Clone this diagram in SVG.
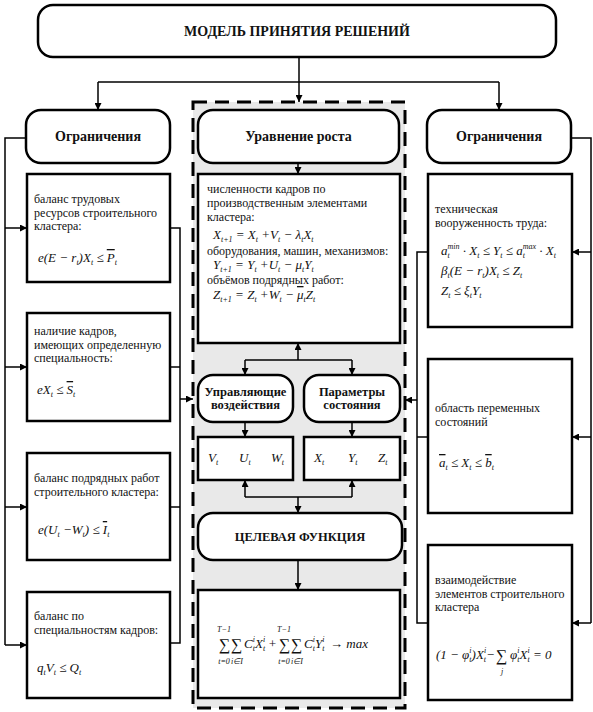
<svg xmlns="http://www.w3.org/2000/svg" width="593" height="712" viewBox="0 0 593 712">
<style>
text{font-family:'Liberation Serif','Times New Roman',serif}
.bx{fill:#fff;stroke:#000;stroke-width:2.5}
.cn{fill:none;stroke:#000;stroke-width:1.5}
.t{font-size:12px;fill:#111}
.h{font-weight:bold;font-size:14px;text-anchor:middle;fill:#111}
.h2{font-weight:bold;font-size:12.5px;text-anchor:middle;fill:#111}
.f{font-style:italic;font-size:13px;fill:#111}
.s{font-size:8px}
.sg{font-size:16px;fill:#111}
.lm{font-style:italic;font-size:8px;fill:#111;text-anchor:middle}
.ov{text-decoration:overline}
</style>
<defs>
<marker id="ar" viewBox="0 0 10 10" refX="10" refY="5" markerWidth="7" markerHeight="7" orient="auto" markerUnits="userSpaceOnUse">
<path d="M0,0 L10,5 L0,10 z" fill="#000"/>
</marker>
</defs>

<rect x="193" y="102" width="212" height="606" fill="#e9e9e9" stroke="#000" stroke-width="3" stroke-dasharray="14 8"/>

<g id="connectors">
<path class="cn" d="M299,57 V102" marker-end="url(#ar)"/>
<path class="cn" d="M98,82 H499"/>
<path class="cn" d="M98,82 V110" marker-end="url(#ar)"/>
<path class="cn" d="M499,82 V110" marker-end="url(#ar)"/>
<path class="cn" d="M26,138 H5 V645"/>
<path class="cn" d="M5,228 H27" marker-end="url(#ar)"/>
<path class="cn" d="M5,367 H27" marker-end="url(#ar)"/>
<path class="cn" d="M5,507 H27" marker-end="url(#ar)"/>
<path class="cn" d="M5,645 H27" marker-end="url(#ar)"/>
<path class="cn" d="M170,228 H180 V643 H170"/>
<path class="cn" d="M170,367 H180"/>
<path class="cn" d="M170,507 H180"/>
<path class="cn" d="M180,399 H193" marker-end="url(#ar)"/>
<path class="cn" d="M571,138 H591 V623"/>
<path class="cn" d="M591,252 H572" marker-end="url(#ar)"/>
<path class="cn" d="M591,437 H572" marker-end="url(#ar)"/>
<path class="cn" d="M591,623 H572" marker-end="url(#ar)"/>
<path class="cn" d="M428,252 H417 V623 H428"/>
<path class="cn" d="M428,437 H417"/>
<path class="cn" d="M417,400 H405" marker-end="url(#ar)"/>
<path class="cn" d="M298,163 V174" marker-end="url(#ar)"/>
<path class="cn" d="M298,360 V343" marker-end="url(#ar)"/>
<path class="cn" d="M245,360 H352"/>
<path class="cn" d="M245,360 V375" marker-end="url(#ar)"/>
<path class="cn" d="M352,360 V375" marker-end="url(#ar)"/>
<path class="cn" d="M245,422 V437" marker-end="url(#ar)"/>
<path class="cn" d="M352,422 V437" marker-end="url(#ar)"/>
<path class="cn" d="M245,497 V480" marker-end="url(#ar)"/>
<path class="cn" d="M352,497 V480" marker-end="url(#ar)"/>
<path class="cn" d="M245,497 H352"/>
<path class="cn" d="M298,497 V513" marker-end="url(#ar)"/>
<path class="cn" d="M298,560 V590" marker-end="url(#ar)"/>
</g>

<g id="title">
<rect class="bx" x="38" y="5" width="518" height="52" rx="15"/>
<text class="h" x="297" y="36">МОДЕЛЬ ПРИНЯТИЯ РЕШЕНИЙ</text>
</g>

<g id="limits-left">
<rect class="bx" x="26" y="110" width="144" height="53" rx="15"/>
<text class="h" x="98" y="141">Ограничения</text>
</g>
<g id="growth">
<rect class="bx" x="198" y="110" width="201" height="53" rx="15"/>
<text class="h" x="298.5" y="141">Уравнение роста</text>
</g>
<g id="limits-right">
<rect class="bx" x="427" y="110" width="144" height="53" rx="15"/>
<text class="h" x="499" y="141">Ограничения</text>
</g>

<g id="left1">
<rect class="bx" x="27" y="174" width="143" height="108"/>
<text class="t" x="34" y="203">баланс трудовых</text>
<text class="t" x="34" y="217">ресурсов строительного</text>
<text class="t" x="34" y="230">кластера:</text>
<text class="f" x="38" y="262">e(E − r<tspan class="s" dy="2.5">t</tspan><tspan dy="-2.5">)X</tspan><tspan class="s" dy="2.5">t</tspan><tspan dy="-2.5"> ≤ </tspan><tspan class="ov">P</tspan><tspan class="s" dy="2.5">t</tspan></text>
</g>
<g id="left2">
<rect class="bx" x="27" y="313" width="143" height="108"/>
<text class="t" x="34" y="335">наличие кадров,</text>
<text class="t" x="34" y="349">имеющих определенную</text>
<text class="t" x="34" y="362">специальность:</text>
<text class="f" x="37" y="394">eX<tspan class="s" dy="2.5">t</tspan><tspan dy="-2.5"> ≤ </tspan><tspan class="ov">S</tspan><tspan class="s" dy="2.5">t</tspan></text>
</g>
<g id="left3">
<rect class="bx" x="27" y="453" width="143" height="107"/>
<text class="t" x="34" y="482">баланс подрядных работ</text>
<text class="t" x="34" y="496">строительного кластера:</text>
<text class="f" x="38" y="534">e(U<tspan class="s" dy="2.5">t</tspan><tspan dy="-2.5"> −W</tspan><tspan class="s" dy="2.5">t</tspan><tspan dy="-2.5">) ≤ </tspan><tspan class="ov">I</tspan><tspan class="s" dy="2.5">t</tspan></text>
</g>
<g id="left4">
<rect class="bx" x="27" y="592" width="143" height="106"/>
<text class="t" x="34" y="620">баланс по</text>
<text class="t" x="34" y="634">специальностям кадров:</text>
<text class="f" x="37" y="672">q<tspan class="s" dy="2.5">t</tspan><tspan dy="-2.5">V</tspan><tspan class="s" dy="2.5">t</tspan><tspan dy="-2.5"> ≤ Q</tspan><tspan class="s" dy="2.5">t</tspan></text>
</g>

<g id="equations">
<rect class="bx" x="198" y="174" width="202" height="169"/>
<text class="t" x="207" y="193">численности кадров по</text>
<text class="t" x="207" y="207">производственным элементами</text>
<text class="t" x="207" y="221">кластера:</text>
<text class="f" x="213" y="239">X<tspan class="s" dy="2.5">t+1</tspan><tspan dy="-2.5"> = X</tspan><tspan class="s" dy="2.5">t</tspan><tspan dy="-2.5"> +V</tspan><tspan class="s" dy="2.5">t</tspan><tspan dy="-2.5"> − λ</tspan><tspan class="s" dy="2.5">t</tspan><tspan dy="-2.5">X</tspan><tspan class="s" dy="2.5">t</tspan></text>
<text class="t" x="207" y="255">оборудования, машин, механизмов:</text>
<text class="f" x="213" y="269">Y<tspan class="s" dy="2.5">t+1</tspan><tspan dy="-2.5"> = Y</tspan><tspan class="s" dy="2.5">t</tspan><tspan dy="-2.5"> +U</tspan><tspan class="s" dy="2.5">t</tspan><tspan dy="-2.5"> − μ</tspan><tspan class="s" dy="2.5">t</tspan><tspan dy="-2.5">Y</tspan><tspan class="s" dy="2.5">t</tspan></text>
<text class="t" x="207" y="284">объёмов подрядных работ:</text>
<text class="f" x="213" y="299">Z<tspan class="s" dy="2.5">t+1</tspan><tspan dy="-2.5"> = Z</tspan><tspan class="s" dy="2.5">t</tspan><tspan dy="-2.5"> +W</tspan><tspan class="s" dy="2.5">t</tspan><tspan dy="-2.5"> − </tspan><tspan class="ov">μ</tspan><tspan class="s" dy="2.5">t</tspan><tspan dy="-2.5">Z</tspan><tspan class="s" dy="2.5">t</tspan></text>
</g>

<g id="control">
<rect class="bx" x="198" y="375" width="95" height="47" rx="15"/>
<text class="h2" x="245.5" y="396">Управляющие</text>
<text class="h2" x="245.5" y="409">воздействия</text>
</g>
<g id="state">
<rect class="bx" x="304" y="375" width="96" height="47" rx="15"/>
<text class="h2" x="352" y="396">Параметры</text>
<text class="h2" x="352" y="409">состояния</text>
</g>
<g id="control-vars">
<rect class="bx" x="198" y="437" width="95" height="43"/>
<text class="f" x="208" y="462">V<tspan class="s" dy="2.5">t</tspan></text>
<text class="f" x="239" y="462">U<tspan class="s" dy="2.5">t</tspan></text>
<text class="f" x="271" y="462">W<tspan class="s" dy="2.5">t</tspan></text>
</g>
<g id="state-vars">
<rect class="bx" x="304" y="437" width="96" height="43"/>
<text class="f" x="314" y="462">X<tspan class="s" dy="2.5">t</tspan></text>
<text class="f" x="348" y="462">Y<tspan class="s" dy="2.5">t</tspan></text>
<text class="f" x="378" y="462">Z<tspan class="s" dy="2.5">t</tspan></text>
</g>

<g id="objective">
<rect class="bx" x="198" y="513" width="204" height="47" rx="15"/>
<text class="h2" x="300" y="541">ЦЕЛЕВАЯ ФУНКЦИЯ</text>
</g>
<g id="objective-formula">
<rect class="bx" x="198" y="590" width="202" height="108"/>
<text class="lm" x="224" y="632">T−1</text>
<text class="sg" x="219" y="650">∑</text>
<text class="lm" x="224" y="664">t=0</text>
<text class="sg" x="231" y="650">∑</text>
<text class="lm" x="237" y="664">i∈I</text>
<text class="f" x="244" y="648">C<tspan class="s" dy="2.5">t</tspan><tspan class="s" dx="-2.2" dy="-8.5">i</tspan><tspan dy="6">X</tspan><tspan class="s" dy="2.5">t</tspan><tspan class="s" dx="-2.2" dy="-8.5">i</tspan></text>
<text class="f" x="268" y="648">+</text>
<text class="lm" x="284" y="632">T−1</text>
<text class="sg" x="279" y="650">∑</text>
<text class="lm" x="284" y="664">t=0</text>
<text class="sg" x="291" y="650">∑</text>
<text class="lm" x="297" y="664">i∈I</text>
<text class="f" x="304" y="648">C<tspan class="s" dy="2.5">t</tspan><tspan class="s" dx="-2.2" dy="-8.5">i</tspan><tspan dy="6">Y</tspan><tspan class="s" dy="2.5">t</tspan><tspan class="s" dx="-2.2" dy="-8.5">i</tspan></text>
<text class="f" x="330" y="648">→ max</text>
</g>

<g id="right1">
<rect class="bx" x="428" y="174" width="144" height="153"/>
<text class="t" x="435" y="213">техническая</text>
<text class="t" x="435" y="227">вооруженность труда:</text>
<text class="f" x="441" y="255">a<tspan class="s" dy="2.5">t</tspan><tspan class="s" dx="-2.2" dy="-8.5">min</tspan><tspan dy="6"> · X</tspan><tspan class="s" dy="2.5">t</tspan><tspan dy="-2.5"> ≤ Y</tspan><tspan class="s" dy="2.5">t</tspan><tspan dy="-2.5"> ≤ a</tspan><tspan class="s" dy="2.5">t</tspan><tspan class="s" dx="-2.2" dy="-8.5">max</tspan><tspan dy="6"> · X</tspan><tspan class="s" dy="2.5">t</tspan></text>
<text class="f" x="441" y="275">β<tspan class="s" dy="2.5">t</tspan><tspan dy="-2.5">(E − r</tspan><tspan class="s" dy="2.5">t</tspan><tspan dy="-2.5">)X</tspan><tspan class="s" dy="2.5">t</tspan><tspan dy="-2.5"> ≤ Z</tspan><tspan class="s" dy="2.5">t</tspan></text>
<text class="f" x="441" y="295">Z<tspan class="s" dy="2.5">t</tspan><tspan dy="-2.5"> ≤ ξ</tspan><tspan class="s" dy="2.5">t</tspan><tspan dy="-2.5">Y</tspan><tspan class="s" dy="2.5">t</tspan></text>
</g>
<g id="right2">
<rect class="bx" x="428" y="359" width="144" height="154"/>
<text class="t" x="435" y="412">область переменных</text>
<text class="t" x="435" y="426">состояний</text>
<text class="f" x="439" y="467"><tspan class="ov">a</tspan><tspan class="s" dy="2.5">t</tspan><tspan dy="-2.5"> ≤ X</tspan><tspan class="s" dy="2.5">t</tspan><tspan dy="-2.5"> ≤ </tspan><tspan class="ov">b</tspan><tspan class="s" dy="2.5">t</tspan></text>
</g>
<g id="right3">
<rect class="bx" x="428" y="545" width="144" height="155"/>
<text class="t" x="435" y="584">взаимодействие</text>
<text class="t" x="435" y="598">элементов строительного</text>
<text class="t" x="435" y="611">кластера</text>
<text class="f" x="436" y="659">(1 − φ<tspan class="s" dy="2.5">t</tspan><tspan class="s" dx="-2.2" dy="-8.5">i</tspan><tspan dy="6">)X</tspan><tspan class="s" dy="2.5">t</tspan><tspan class="s" dx="-2.2" dy="-8.5">i</tspan></text>
<text class="f" x="486" y="659">−</text>
<text class="sg" x="496" y="661">∑</text>
<text class="lm" x="502" y="674">j</text>
<text class="f" x="510" y="659">φ<tspan class="s" dy="2.5">t</tspan><tspan class="s" dx="-2.2" dy="-8.5">i</tspan><tspan dy="6">X</tspan><tspan class="s" dy="2.5">t</tspan><tspan class="s" dx="-2.2" dy="-8.5">i</tspan><tspan dy="6"> = 0</tspan></text>
</g>
</svg>
